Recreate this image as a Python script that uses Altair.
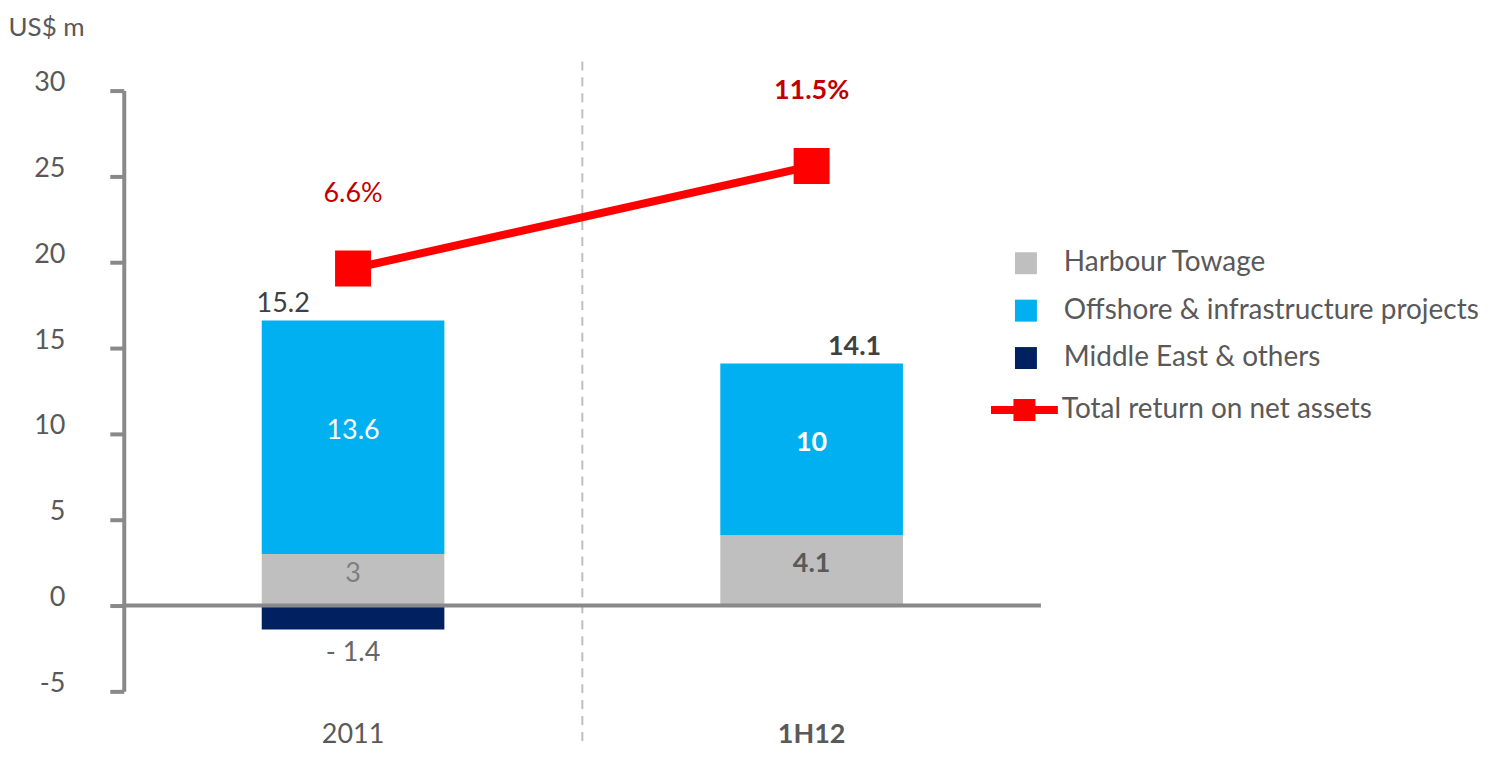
import altair as alt
import pandas as pd

# ---------------- data ----------------
periods = ["2011", "1H12"]
segments = ["Harbour Towage", "Offshore & infrastructure projects", "Middle East & others"]
harbour_towage = [3.0, 4.1]
offshore_projects = [13.6, 10.0]
middle_east = [-1.4, 0.0]
total_labels = ["15.2", "14.1"]
return_series = "Total return on net assets"
return_values = [6.6, 11.5]
return_labels = ["6.6%", "11.5%"]
y_ticks = [-5, 0, 5, 10, 15, 20, 25, 30]

# ---------------- styles ----------------
seg_colors = ["#BFBFBF", "#00B0F0", "#002060"]
RED = "#FF0000"
DARK_RED = "#C00000"
GRAY_TEXT = "#595959"
DARK_TEXT = "#404040"
AXIS_GRAY = "#898989"
FONT = "Lato"
FS = 27
LFS = 28

rows = []
for i, p in enumerate(periods):
    h, o, m = harbour_towage[i], offshore_projects[i], middle_east[i]
    rows.append(dict(period=p, segment=segments[0], lo=0.0, hi=h, value=h))
    rows.append(dict(period=p, segment=segments[1], lo=h, hi=h + o, value=o))
    if m != 0:
        rows.append(dict(period=p, segment=segments[2], lo=m, hi=0.0, value=m))
bars_df = pd.DataFrame(rows)
bars_df["mid"] = (bars_df["lo"] + bars_df["hi"]) / 2
bars_df["label"] = bars_df["value"].map(lambda v: f"- {abs(v):g}" if v < 0 else f"{v:g}")

tops = bars_df.groupby("period", sort=False)["hi"].max()
totals_df = pd.DataFrame({"period": periods, "top": [tops[p] for p in periods], "label": total_labels})

line_df = pd.DataFrame({"period": periods, "value": return_values, "label": return_labels,
                        "series": [return_series] * len(periods)})

x_scale = alt.Scale(domain=periods, paddingInner=0, paddingOuter=0)
x_axis = alt.Axis(
    domain=False, ticks=False, labelAngle=0, labelPadding=30,
    labelFont=FONT, labelFontSize=FS, labelColor=GRAY_TEXT,
    labelFontWeight={"condition": {"test": "datum.value == '1H12'", "value": "bold"}, "value": "normal"},
)
x_enc = alt.X("period:N", scale=x_scale, title=None, axis=x_axis)

y_axis = alt.Axis(
    values=y_ticks, grid=False,
    domainColor=AXIS_GRAY, domainWidth=4,
    tickColor=AXIS_GRAY, tickWidth=4, tickSize=14,
    labelPadding=45, labelFont=FONT, labelFontSize=FS, labelColor=GRAY_TEXT,
    labelBaseline="alphabetic",
    labelExpr="replace(datum.label, '\u2212', '-')",
    title="US$ m", titleAngle=0, titleAlign="left", titleBaseline="middle",
    titleX=-116, titleY=-63, titleFont=FONT, titleFontSize=26,
    titleFontWeight="normal", titleColor=GRAY_TEXT,
)
y_scale = alt.Scale(domain=[-5, 30], nice=False, zero=False)


def y_enc(field):
    return alt.Y(f"{field}:Q", scale=y_scale, axis=y_axis, title="US$ m")


divider = alt.Chart(pd.DataFrame({"period": periods[:1]})).mark_rule(
    color="#BFBFBF", strokeWidth=2, strokeDash=[9, 7]
).encode(
    x=alt.X("period:N", bandPosition=1, scale=x_scale, title=None, axis=x_axis),
    y=alt.datum(31.7),
    y2=alt.datum(-8.3),
)

bars = alt.Chart(bars_df).mark_bar(size=183).encode(
    x=x_enc,
    y=y_enc("lo"),
    y2="hi:Q",
    fill=alt.Fill(
        "segment:N",
        scale=alt.Scale(domain=segments, range=seg_colors),
        legend=alt.Legend(
            orient="none", legendX=890, legendY=159, title=None,
            symbolType="square", symbolSize=484, symbolStrokeWidth=0,
            labelFont=FONT, labelFontSize=LFS, labelColor=GRAY_TEXT,
            labelOffset=24, rowPadding=19.5, labelLimit=800,
        ),
    ),
    order=alt.Order("lo:Q"),
)

zero_rule = alt.Chart(pd.DataFrame({"zero": [0]})).mark_rule(color=AXIS_GRAY, strokeWidth=4).encode(
    y=y_enc("zero")
)


def seg_text(period, segment, color, weight, dy, field="mid"):
    return alt.Chart(bars_df).transform_filter(
        f"datum.period == '{period}' && datum.segment == '{segment}'"
    ).mark_text(
        color=color, fontWeight=weight, dy=dy, font=FONT, fontSize=FS, baseline="middle"
    ).encode(x=x_enc, y=y_enc(field), text="label:N")


def total_text(period, weight, dx):
    return alt.Chart(totals_df).transform_filter(f"datum.period == '{period}'").mark_text(
        color=DARK_TEXT, fontWeight=weight, dx=dx, dy=-9, font=FONT, fontSize=FS, baseline="alphabetic"
    ).encode(x=x_enc, y=y_enc("top"), text="label:N")


labels = [
    seg_text("2011", segments[1], "white", "normal", -6),
    seg_text("2011", segments[0], "#7F7F7F", "normal", -6),
    seg_text("2011", segments[2], "#666666", "normal", 23, field="lo"),
    seg_text("1H12", segments[1], "white", "bold", -6),
    seg_text("1H12", segments[0], GRAY_TEXT, "bold", -6),
    total_text("2011", "normal", -70),
    total_text("1H12", "bold", 43),
]

bar_group = alt.layer(divider, bars, zero_rule, *labels)

y2_enc = alt.Y("value:Q", scale=alt.Scale(domain=[-13.6, 15.1], nice=False, zero=False), axis=None)

LEGEND_PATH = ("M-1,0H1"
               "M-0.209,-0.209H0.209V0.209H-0.209Z"
               "M-0.09,-0.09H0.09V0.09H-0.09Z")

line = alt.Chart(line_df).mark_line(strokeWidth=8, strokeCap="round").encode(
    x=x_enc,
    y=y2_enc,
    stroke=alt.Stroke(
        "series:N",
        scale=alt.Scale(domain=[return_series], range=[RED]),
        legend=alt.Legend(
            orient="none", legendX=865, legendY=282.5, title=None,
            symbolType=LEGEND_PATH, symbolSize=4489, symbolStrokeWidth=8,
            labelFont=FONT, labelFontSize=LFS, labelColor=GRAY_TEXT,
            labelOffset=0, labelLimit=800,
        ),
    ),
)

points = alt.Chart(line_df).mark_square(size=1300, color=RED, opacity=1, filled=True).encode(
    x=x_enc, y=y2_enc
)


def pct_text(period, weight):
    return alt.Chart(line_df).transform_filter(f"datum.period == '{period}'").mark_text(
        color=DARK_RED, fontWeight=weight, dy=-75, font=FONT, fontSize=FS, baseline="middle"
    ).encode(x=x_enc, y=y2_enc, text="label:N")


line_group = alt.layer(line, points, pct_text("2011", "normal"), pct_text("1H12", "bold"))

chart = (
    alt.layer(bar_group, line_group)
    .resolve_scale(y="independent")
    .properties(
        width=919, height=602,
        autosize=alt.AutoSizeParams(type="none"),
        padding={"left": 116, "top": 82, "right": 450, "bottom": 58},
    )
    .configure(font=FONT)
    .configure_view(stroke=None)
)

chart.save("out.html", embed_options={"renderer": "svg", "actions": False})
